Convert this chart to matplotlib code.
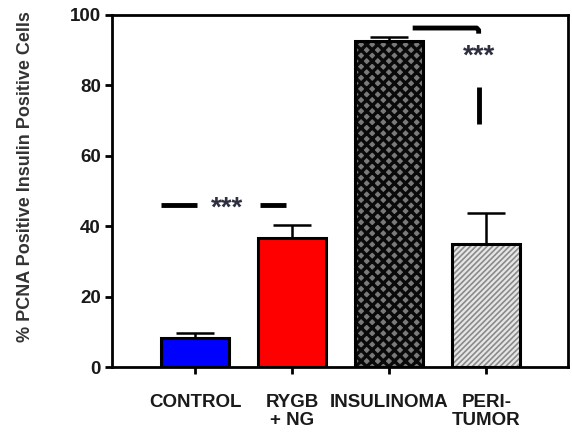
import matplotlib
matplotlib.use("Agg")
import matplotlib.pyplot as plt
import numpy as np

categories = ["CONTROL", "RYGB\n+ NG", "INSULINOMA", "PERI-\nTUMOR"]
means = [8.3, 36.8, 92.6, 35.0]
errors = [1.4, 3.7, 1.1, 8.9]
yticks = [0, 20, 40, 60, 80, 100]
sig_label = "***"
sig1_y = 45.9
sig2_y = 96.3

plt.rcParams['font.family'] = ['Liberation Sans', 'DejaVu Sans']
fig = plt.figure(figsize=(5.72, 4.36), dpi=100)
ax = fig.add_axes([0.1958, 0.158, 0.797, 0.8076])

x = np.arange(len(categories))
w = 0.70
lw = 2.2

# CONTROL and RYGB
ax.bar(x[0], means[0], w, color="#0000ff", edgecolor="black", linewidth=lw, zorder=2)
ax.bar(x[1], means[1], w, color="#ff0000", edgecolor="black", linewidth=lw, zorder=2)
# INSULINOMA checker
plt.rcParams['hatch.linewidth'] = 2.4
ax.bar(x[2], means[2], w, color="#7a7a7a", edgecolor="#0a0a0a", hatch="xxx", linewidth=0, zorder=2)
ax.bar(x[2], means[2], w, color="none", edgecolor="black", linewidth=lw, zorder=3)
# PERI-TUMOR hatched
plt.rcParams['hatch.linewidth'] = 1.2
ax.bar(x[3], means[3], w, color="#e6e6e6", edgecolor="#8a8a8a", hatch="//////", linewidth=0, zorder=2)
ax.bar(x[3], means[3], w, color="none", edgecolor="black", linewidth=lw, zorder=3)

# error bars (upper only)
for xi, m, e in zip(x, means, errors):
    ax.errorbar(xi, m, yerr=[[0], [e]], fmt="none", ecolor="black",
                elinewidth=1.8, capsize=14, capthick=1.8, zorder=1)

# significance marks
blk = dict(color="black", linewidth=3.5, solid_capstyle="butt")
ax.plot([x[0] - 0.35, x[0] + 0.02], [sig1_y, sig1_y], **blk)
ax.plot([x[1] - 0.33, x[1] - 0.07], [sig1_y, sig1_y], **blk)
ax.text((x[0] + x[1]) / 2 - 0.17, sig1_y - 0.8, sig_label, ha="center", va="center",
        fontsize=20, fontweight="bold", color="#2e3040")

ax.plot([x[2] + 0.24, x[3] - 0.1, x[3] - 0.08, x[3] - 0.08],
        [sig2_y, sig2_y, sig2_y - 0.6, sig2_y - 1.6], **blk)
ax.text(x[3] - 0.08, 88.1, sig_label, ha="center", va="center",
        fontsize=20, fontweight="bold", color="#2e3040")
ax.plot([x[3] - 0.08, x[3] - 0.08], [69.0, 79.5], **blk)

ax.set_xlim(-0.86, 3.84)
ax.set_ylim(0, 100)
ax.set_yticks(yticks)
ax.set_xticks(x)
ax.set_xticklabels(categories, fontsize=13.5, fontweight="bold", color="#1a1a1a",
                   linespacing=1.15)
for lab in ax.get_yticklabels():
    lab.set_fontsize(13.5)
    lab.set_fontweight("bold")
    lab.set_color("#1a1a1a")
ax.tick_params(axis="both", direction="out", length=5, width=2, color="black")
ax.tick_params(axis="x", pad=14)
ax.tick_params(axis="y", pad=3)
for s in ax.spines.values():
    s.set_linewidth(2.0)
ax.set_ylabel("% PCNA Positive Insulin Positive Cells", fontsize=13,
              fontweight="bold", color="#333333")
ax.yaxis.set_label_coords(-0.17, 0.54)

fig.savefig("out.png", dpi=100)
